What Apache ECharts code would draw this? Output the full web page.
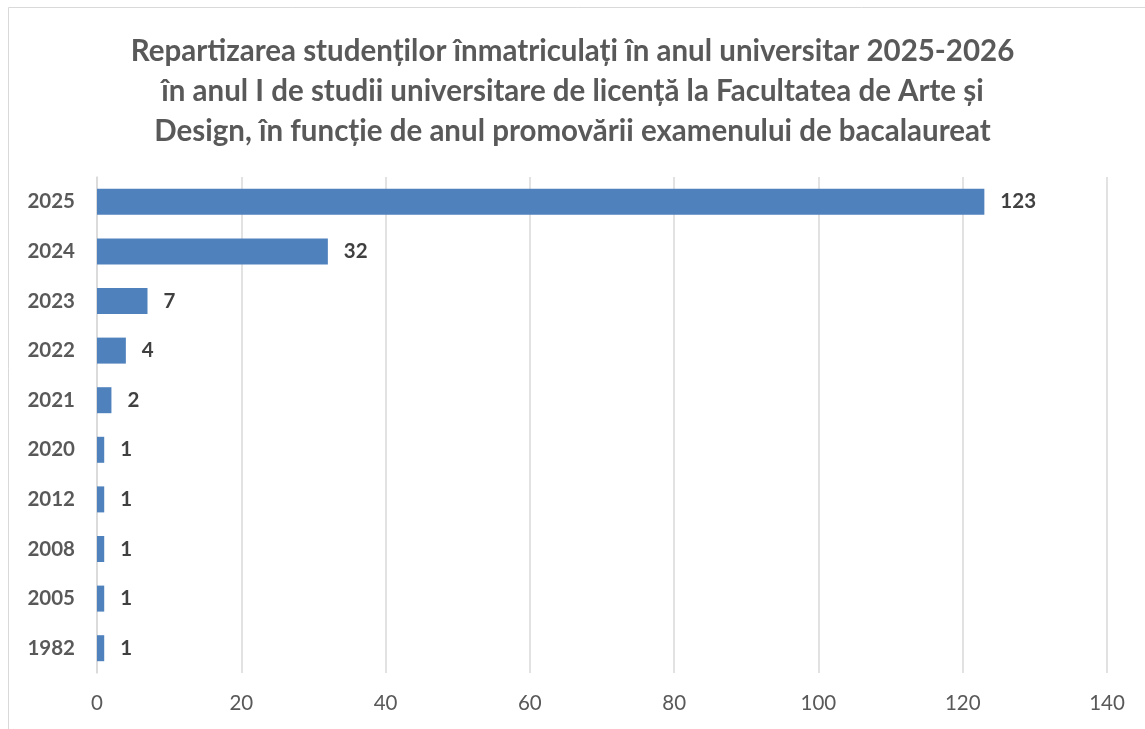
<!DOCTYPE html>
<html>
<head>
<meta charset="utf-8">
<script src="https://cdn.jsdelivr.net/npm/echarts@6/dist/echarts.min.js"></script>
<style>
  html, body { margin: 0; padding: 0; background: #fff; }
  #chart { width: 1145px; height: 729px; }
</style>
</head>
<body>
<div id="chart"></div>
<script>
// anul promovarii bacalaureatului
const years = ["2025", "2024", "2023", "2022", "2021", "2020", "2012", "2008", "2005", "1982"];
const students = [123, 32, 7, 4, 2, 1, 1, 1, 1, 1];
const titleLines = [
  "Repartizarea studenților înmatriculați în anul universitar 2025-2026",
  "în anul I de studii universitare de licență la Facultatea de Arte și",
  "Design, în funcție de anul promovării examenului de bacalaureat"
];

const font = "Lato, 'Open Sans', sans-serif";
const chart = echarts.init(document.getElementById("chart"));

chart.setOption({
  animation: false,
  textStyle: { fontFamily: font },
  title: {
    text: titleLines.join("\n"),
    left: "center",
    top: 26,
    textStyle: {
      fontFamily: font,
      fontSize: 29.5,
      fontWeight: "bold",
      color: "#595959",
      lineHeight: 40,
    },
  },
  graphic: [
    {
      type: "rect",
      shape: { x: 8.5, y: 7.5, width: 1300, height: 900 },
      style: { fill: "none", stroke: "#d9d9d9", lineWidth: 1 },
      silent: true,
    },
  ],
  grid: { left: 97, right: 38, top: 177, bottom: 56 },
  xAxis: {
    type: "value",
    min: 0,
    max: 140,
    interval: 20,
    axisLine: { show: false },
    axisTick: { show: false },
    splitLine: { lineStyle: { color: "#d9d9d9", width: 1.5 } },
    axisLabel: { color: "#595959", fontSize: 20.5, margin: 20 },
  },
  yAxis: {
    type: "category",
    data: years,
    inverse: true,
    axisLine: { lineStyle: { color: "#d9d9d9", width: 1.5 } },
    axisTick: { show: false },
    axisLabel: { color: "#595959", fontSize: 20.5, fontWeight: "bold", margin: 22 },
  },
  series: [
    {
      type: "bar",
      data: students,
      barWidth: 26,
      itemStyle: { color: "#4f81bd" },
      label: {
        show: true,
        position: "right",
        distance: 16,
        color: "#404040",
        fontSize: 20.5,
        fontWeight: "bold",
      },
    },
  ],
});
</script>
</body>
</html>
